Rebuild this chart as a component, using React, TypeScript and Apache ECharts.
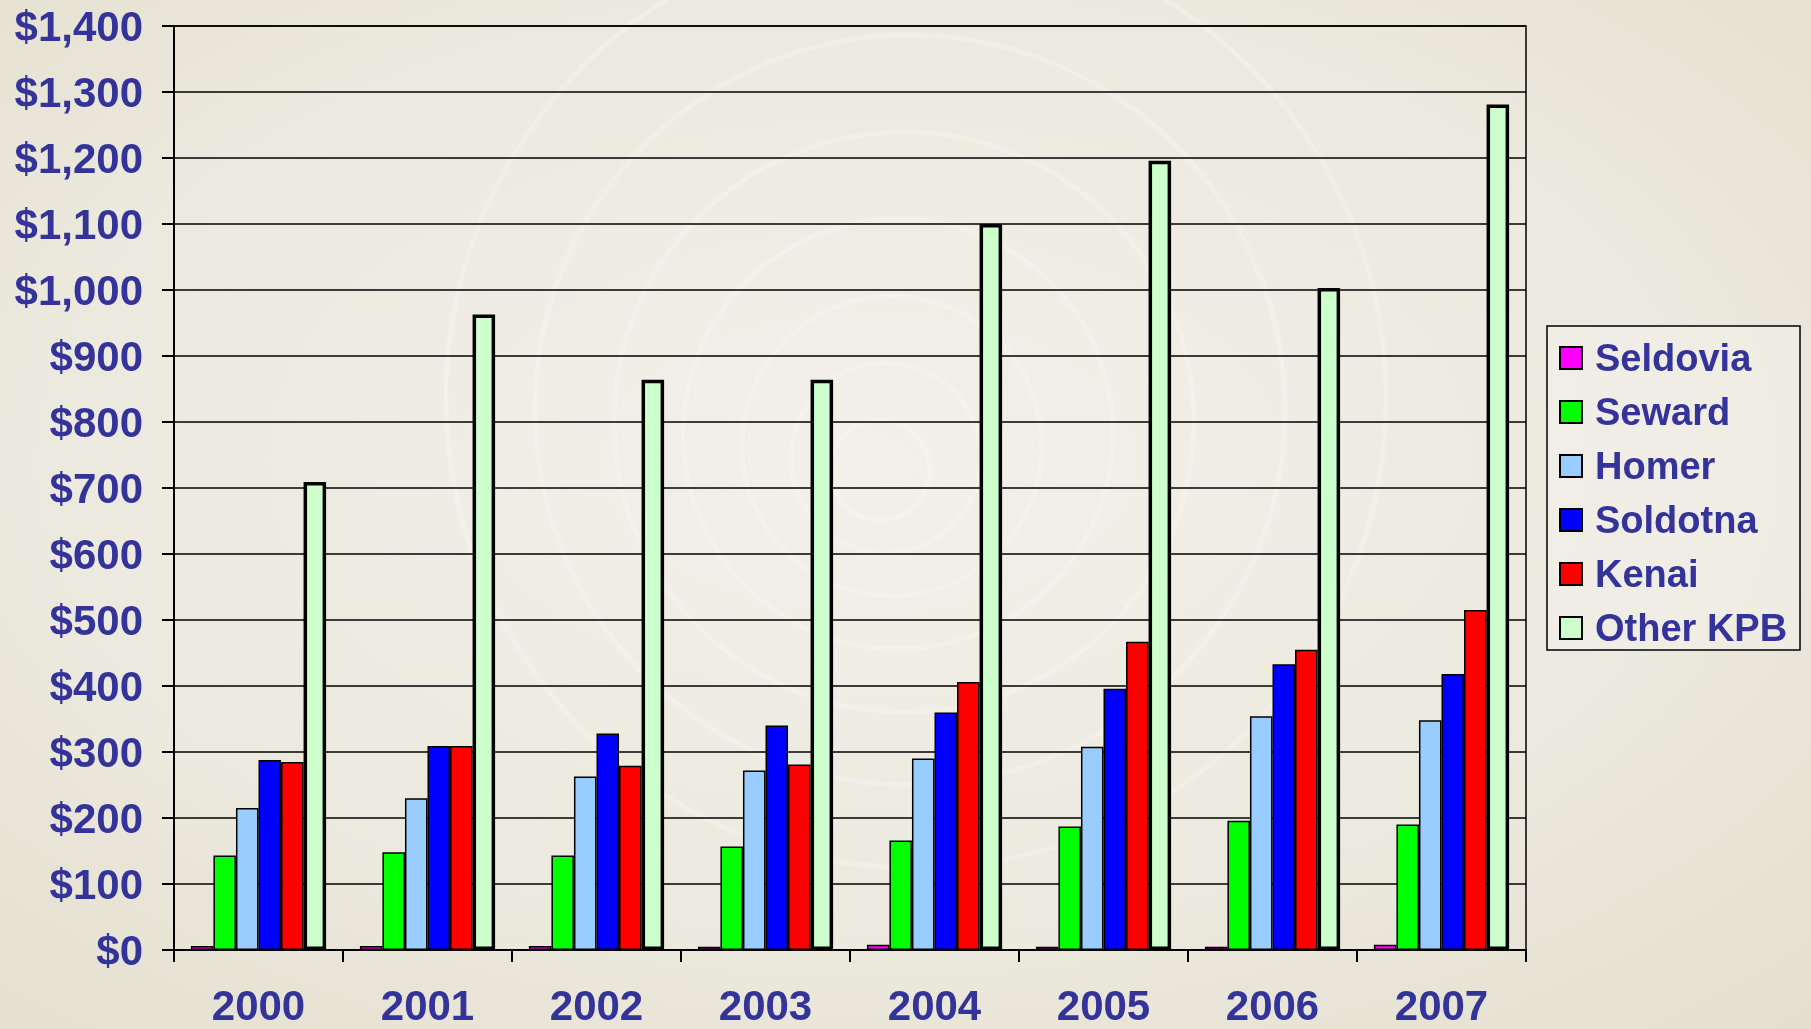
import React, { useEffect, useRef } from "react";
import * as echarts from "echarts";

const years = ["2000", "2001", "2002", "2003", "2004", "2005", "2006", "2007"];
const seldovia = [6, 6, 6, 5, 8, 5, 5, 8];
const seward = [143, 148, 143, 157, 166, 187, 196, 190];
const homer = [215, 230, 263, 272, 290, 308, 354, 348];
const soldotna = [288, 309, 328, 340, 360, 396, 433, 418];
const kenai = [285, 309, 279, 281, 406, 467, 455, 515];
const otherKPB = [709, 963, 864, 864, 1100, 1196, 1003, 1281];
const yTicks = { min: 0, max: 1400, interval: 100 };

const TEXT = "#333399";
const FONT = "'Liberation Sans', Arial, Helvetica, sans-serif";

export default function App() {
  const ref = useRef<HTMLDivElement>(null);
  useEffect(() => {
    if (!ref.current) return;
    const chart = echarts.init(ref.current, undefined, { renderer: "svg" });
    const mk = (name: string, data: number[], color: string, bw: number) => ({
      name,
      type: "bar",
      data,
      barGap: "0%",
      barCategoryGap: "20%",
      itemStyle: { color, borderColor: "#000", borderWidth: bw },
    });
    const rings: any[] = [];
    const radii = [50, 95, 150, 215, 290, 375, 470];
    radii.forEach((r, i) => {
      rings.push({
        type: "circle",
        silent: true,
        z: -10,
        shape: { cx: 880 + i * 6, cy: 470 - i * 12, r },
        style: { fill: "none", stroke: "rgba(255,255,255,0.22)", lineWidth: 5 },
      });
    });
    chart.setOption({
      animation: false,
      backgroundColor: {
        type: "radial",
        x: 0.48,
        y: 0.45,
        r: 0.75,
        colorStops: [
          { offset: 0, color: "#F2F0E9" },
          { offset: 0.6, color: "#ECE9DE" },
          { offset: 1, color: "#E3E0CF" },
        ],
      },
      graphic: [
        ...rings,
        {
          type: "rect",
          shape: { x: 1547, y: 326, width: 253, height: 324 },
          style: { fill: "rgba(242,240,233,0.6)", stroke: "#000", lineWidth: 1.5 },
          z: 0,
        },
      ],
      grid: {
        left: 174,
        right: 285,
        top: 26,
        bottom: 79,
        show: true,
        borderColor: "#000",
        borderWidth: 1.5,
        backgroundColor: "transparent",
      },
      legend: {
        orient: "vertical",
        left: 1559,
        top: 339,
        itemWidth: 22,
        itemHeight: 22,
        itemGap: 16,
        padding: 0,
        icon: "rect",
        textStyle: {
          color: TEXT,
          fontSize: 38,
          fontWeight: "bold",
          fontFamily: FONT,
          padding: [0, 0, 0, 8],
        },
        data: ["Seldovia", "Seward", "Homer", "Soldotna", "Kenai", "Other KPB"],
      },
      xAxis: {
        type: "category",
        data: years,
        axisLine: { lineStyle: { color: "#000", width: 2 } },
        axisTick: { show: true, length: 12, lineStyle: { color: "#000", width: 2 } },
        axisLabel: {
          color: TEXT,
          fontSize: 42,
          fontWeight: "bold",
          fontFamily: FONT,
          margin: 34,
        },
      },
      yAxis: {
        type: "value",
        min: yTicks.min,
        max: yTicks.max,
        interval: yTicks.interval,
        axisLine: { show: true, lineStyle: { color: "#000", width: 2 } },
        axisTick: { show: true, length: 12, lineStyle: { color: "#000", width: 2 } },
        splitLine: { show: true, lineStyle: { color: "#000", width: 1.6 } },
        axisLabel: {
          color: TEXT,
          fontSize: 42,
          fontWeight: "bold",
          fontFamily: FONT,
          margin: 31,
          formatter: (v: number) => "$" + v.toLocaleString("en-US"),
        },
      },
      series: [
        mk("Seldovia", seldovia, "#FF00FF", 1.5),
        mk("Seward", seward, "#00FF00", 1.5),
        mk("Homer", homer, "#99CCFF", 1.5),
        mk("Soldotna", soldotna, "#0000FF", 1.5),
        mk("Kenai", kenai, "#FF0000", 1.5),
        mk("Other KPB", otherKPB, "#CCFFCC", 3.5),
      ],
    });
    return () => chart.dispose();
  }, []);
  return (
    <div
      ref={ref}
      style={{ position: "fixed", left: 0, top: 0, width: 1811, height: 1029 }}
    />
  );
}
